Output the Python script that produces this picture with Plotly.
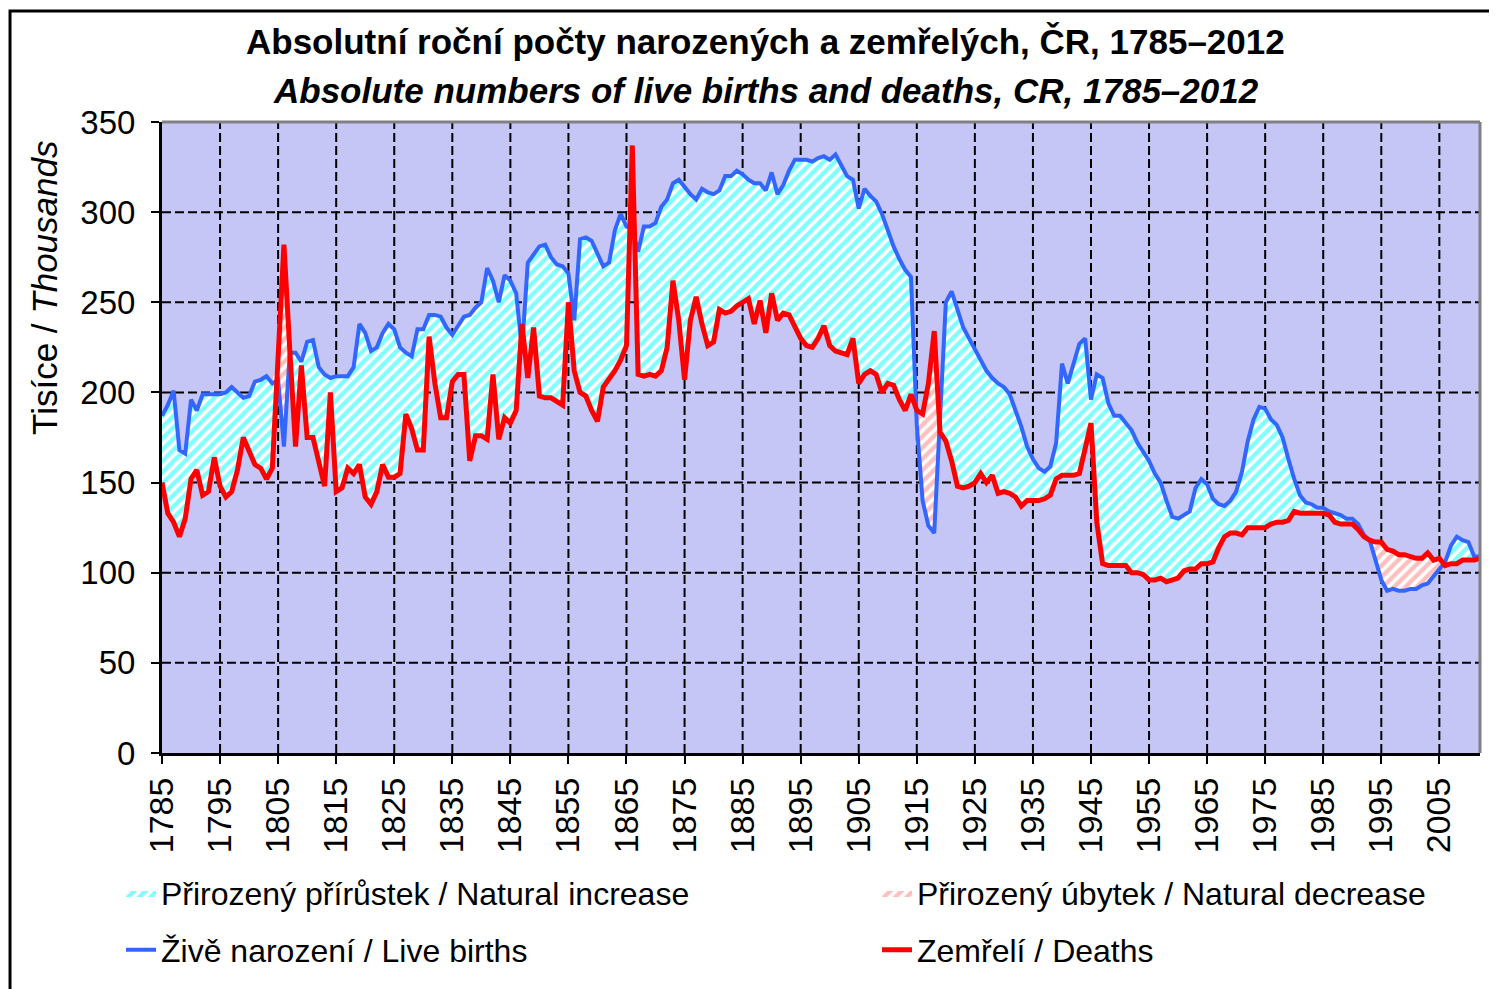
import numpy as np
import plotly.graph_objects as go

# Czech lands, absolute yearly numbers (thousands), 1785-2012
years = list(range(1785, 2013))

births = [
    187, 193, 201, 168, 166, 196, 190, 199, 199, 199,   # 1785-1794
    199, 200, 203, 200, 197, 198, 206, 207, 209, 205,   # 1795-1804
    207, 170, 222, 222, 217, 228, 229, 214, 210, 208,   # 1805-1814
    209, 209, 209, 214, 238, 233, 223, 225, 233, 238,   # 1815-1824
    235, 225, 222, 220, 235, 235, 243, 243, 242, 236,   # 1825-1834
    232, 237, 242, 243, 247, 250, 269, 262, 250, 265,   # 1835-1844
    262, 255, 224, 272, 277, 281, 282, 275, 271, 270,   # 1845-1854
    266, 240, 285, 286, 284, 277, 270, 272, 290, 299,   # 1855-1864
    292, 291, 278, 292, 292, 294, 303, 307, 316, 318,   # 1865-1874
    314, 310, 307, 313, 311, 310, 312, 320, 320, 323,   # 1875-1884
    321, 318, 316, 316, 312, 322, 310, 315, 323, 329,   # 1885-1894
    329, 329, 328, 330, 331, 329, 332, 326, 320, 318,   # 1895-1904
    302, 313, 309, 306, 299, 290, 281, 274, 268, 264,   # 1905-1914
    182, 140, 126, 122, 182, 250, 256, 246, 236, 230,   # 1915-1924
    224, 217, 212, 208, 205, 203, 199, 190, 181, 170,   # 1925-1934
    163, 158, 156, 159, 172, 216, 205, 216, 227, 230,   # 1935-1944
    196, 210, 208, 194, 187, 187, 183, 179, 172, 167,   # 1945-1954
    162, 155, 150, 140, 131, 130, 132, 134, 147, 152,   # 1955-1964
    149, 141, 138, 137, 140, 145, 156, 173, 185, 192,   # 1965-1974
    191, 185, 182, 175, 163, 152, 143, 139, 138, 136,   # 1975-1984
    136, 134, 133, 132, 130, 130, 127, 121, 118, 106,   # 1985-1994
    96, 90, 91, 90, 90, 91, 91, 93, 94, 98,             # 1995-2004
    102, 106, 115, 120, 118, 117, 109, 109,             # 2005-2012
]

deaths = [
    150, 133, 128, 120, 130, 152, 157, 143, 145, 164,   # 1785-1794
    148, 142, 145, 157, 175, 168, 160, 158, 152, 158,   # 1795-1804
    222, 282, 224, 170, 215, 175, 175, 160, 148, 200,   # 1805-1814
    145, 147, 158, 155, 160, 142, 138, 145, 160, 153,   # 1815-1824
    153, 155, 188, 180, 168, 168, 231, 205, 186, 186,   # 1825-1834
    206, 210, 210, 162, 176, 176, 174, 210, 174, 186,   # 1835-1844
    183, 190, 238, 208, 236, 198, 197, 197, 195, 193,   # 1845-1854
    250, 212, 200, 198, 190, 184, 203, 207, 212, 218,   # 1855-1864
    226, 337, 210, 209, 210, 209, 212, 225, 262, 240,   # 1865-1874
    207, 240, 253, 238, 226, 228, 246, 244, 245, 248,   # 1875-1884
    250, 252, 238, 251, 233, 255, 240, 244, 243, 236,   # 1885-1894
    230, 226, 225, 230, 237, 226, 223, 222, 221, 230,   # 1895-1904
    205, 210, 212, 210, 200, 205, 204, 196, 190, 199,   # 1905-1914
    190, 188, 205, 234, 178, 173, 162, 148, 147, 148,   # 1915-1924
    150, 155, 150, 154, 144, 145, 144, 142, 137, 140,   # 1925-1934
    140, 140, 141, 143, 152, 154, 154, 154, 155, 168,   # 1935-1944
    183, 128, 105, 104, 104, 104, 104, 100, 100, 99,    # 1945-1954
    96, 96, 97, 95, 96, 97, 101, 102, 102, 105,         # 1955-1964
    105, 106, 114, 120, 122, 122, 121, 125, 125, 125,   # 1965-1974
    125, 127, 128, 128, 129, 134, 133, 133, 133, 133,   # 1975-1984
    133, 132, 128, 127, 127, 127, 124, 120, 118, 117,   # 1985-1994
    117, 113, 112, 110, 110, 109, 108, 108, 111, 107,   # 1995-2004
    108, 104, 105, 105, 107, 107, 107, 108,             # 2005-2012
]

x_ticks = list(range(1785, 2006, 10))
y_ticks = [0, 50, 100, 150, 200, 250, 300, 350]

FONT = "Liberation Sans, Arial, sans-serif"
upper = np.maximum(births, deaths)

fig = go.Figure()

# natural increase: between deaths and max(births, deaths)
fig.add_scatter(x=years, y=deaths, mode="lines", line=dict(width=0),
                showlegend=False, hoverinfo="skip")
fig.add_scatter(x=years, y=upper, mode="lines", line=dict(width=0), fill="tonexty",
                fillcolor="white",
                fillpattern=dict(shape="/", fgcolor="#00FFFF", bgcolor="white", size=8, solidity=0.55),
                name="Přirozený přírůstek / Natural increase", legend="legend")
# natural decrease: between births and max(births, deaths)
fig.add_scatter(x=years, y=births, mode="lines", line=dict(width=0),
                showlegend=False, hoverinfo="skip")
fig.add_scatter(x=years, y=upper, mode="lines", line=dict(width=0), fill="tonexty",
                fillcolor="white",
                fillpattern=dict(shape="/", fgcolor="#FF8080", bgcolor="white", size=8, solidity=0.55),
                name="Přirozený úbytek / Natural decrease", legend="legend2")

fig.add_scatter(x=years, y=births, mode="lines", line=dict(color="#3366FF", width=4),
                name="Živě narození / Live births", legend="legend3")
fig.add_scatter(x=years, y=deaths, mode="lines", line=dict(color="#FF0000", width=5),
                name="Zemřelí / Deaths", legend="legend4")

# dashed black-on-white grid
shapes = []
for yv in y_ticks[1:-1]:
    shapes.append(dict(type="line", xref="x", yref="y", x0=years[0], x1=years[-1], y0=yv, y1=yv,
                       line=dict(color="black", width=2, dash="9px,4px"), layer="below"))
for xv in x_ticks[1:]:
    shapes.append(dict(type="line", xref="x", yref="y", x0=xv, x1=xv, y0=0, y1=350,
                       line=dict(color="black", width=2, dash="9px,4px"), layer="below"))
# grey top/right frame of the plot area
shapes.append(dict(type="line", xref="paper", yref="paper", x0=0, x1=1, y0=1, y1=1,
                   line=dict(color="#808080", width=3), layer="above"))
shapes.append(dict(type="line", xref="paper", yref="paper", x0=1, x1=1, y0=0, y1=1,
                   line=dict(color="#808080", width=3), layer="above"))
# outer chart border
shapes.append(dict(type="rect", xref="paper", yref="paper", x0=-0.1153, x1=1.03, y0=-0.40, y1=1.176,
                   line=dict(color="black", width=3), fillcolor="rgba(0,0,0,0)", layer="above"))

leg = dict(xanchor="left", yanchor="middle", font=dict(size=32), bgcolor="rgba(0,0,0,0)")

fig.update_layout(
    width=1489, height=981,
    margin=dict(l=154, r=17, t=114, b=236),
    paper_bgcolor="white",
    plot_bgcolor="#C6C6F6",
    font=dict(family=FONT, size=30, color="black"),
    shapes=shapes,
    annotations=[
        dict(text="<b>Absolutní roční počty narozených a zemřelých, ČR, 1785–2012</b>",
             xref="paper", yref="paper", x=0.458, y=1.1268, xanchor="center", yanchor="middle",
             showarrow=False, font=dict(size=35)),
        dict(text="<b><i>Absolute numbers of live births and deaths, CR, 1785–2012</i></b>",
             xref="paper", yref="paper", x=0.458, y=1.0507, xanchor="center", yanchor="middle",
             showarrow=False, font=dict(size=35)),
        dict(text="Tisíce / <i>Thousands</i>", textangle=-90,
             xref="paper", yref="paper", x=-0.0888, y=0.737, xanchor="center", yanchor="middle",
             showarrow=False, font=dict(size=35)),
    ],
    xaxis=dict(range=[years[0], years[-1]], tickvals=x_ticks, tickangle=-90, automargin=False,
               showgrid=False, zeroline=False, showline=True, linecolor="black", linewidth=3,
               ticks="outside", ticklen=8, tickwidth=2, tickcolor="black",
               tickfont=dict(size=34), ticklabelstandoff=0),
    yaxis=dict(range=[0, 350], tickvals=y_ticks, showgrid=False, zeroline=False, automargin=False,
               showline=True, linecolor="black", linewidth=3,
               ticks="outside", ticklen=8, tickwidth=2, tickcolor="black",
               tickfont=dict(size=33), ticklabelstandoff=9),
    legend=dict(x=-0.0311, y=-0.222, **leg),
    legend2=dict(x=0.5425, y=-0.222, **leg),
    legend3=dict(x=-0.0311, y=-0.312, **leg),
    legend4=dict(x=0.5425, y=-0.312, **leg),
)

fig.write_html("out.html")
